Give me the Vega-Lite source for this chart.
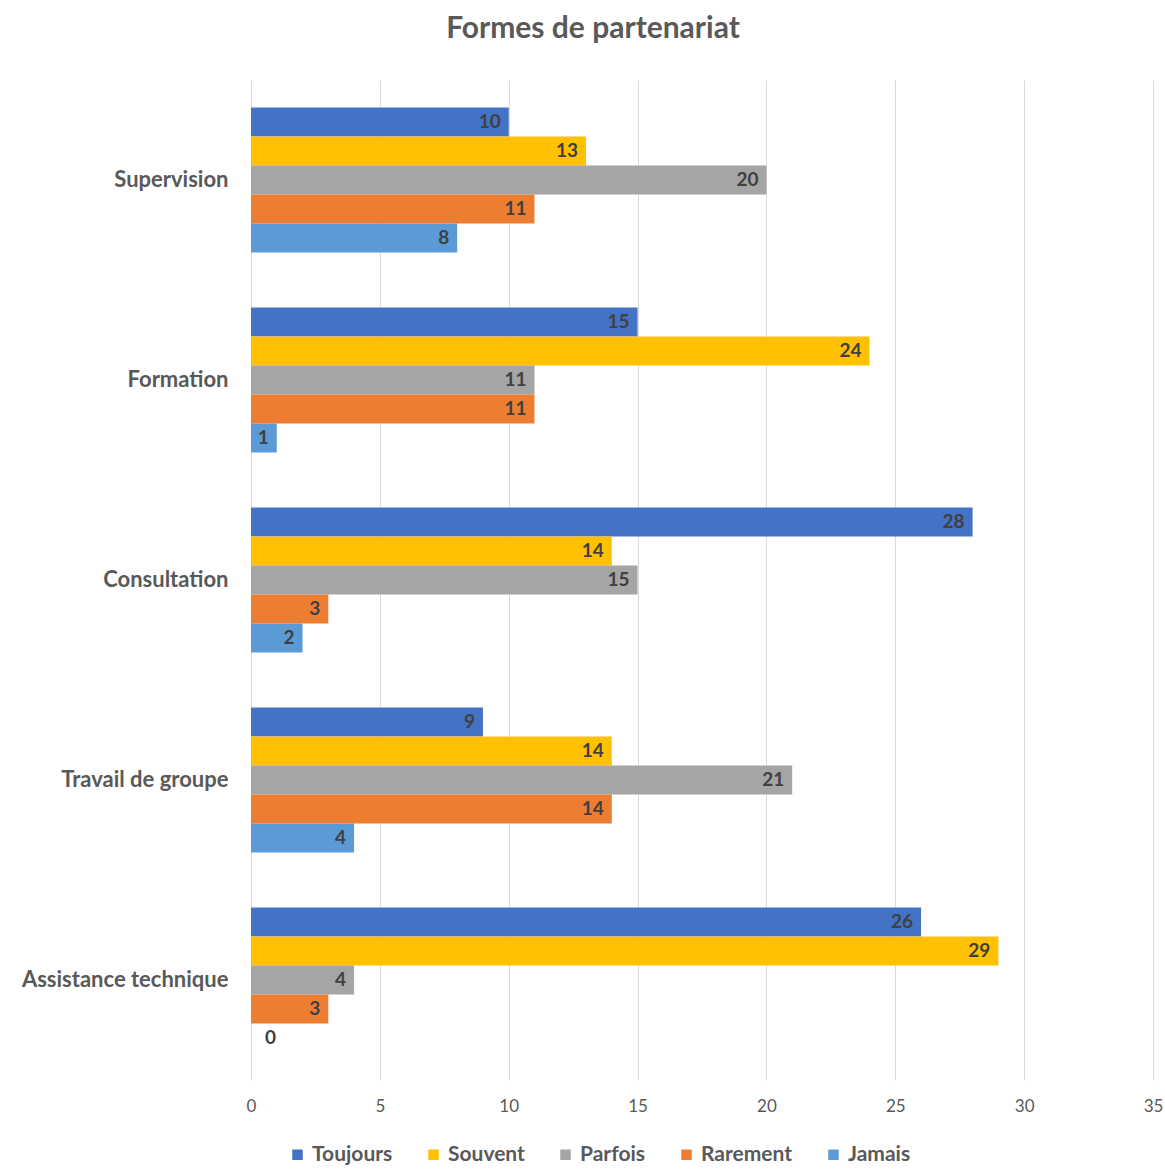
{
  "$schema": "https://vega.github.io/schema/vega-lite/v6.json",
  "autosize": {"type": "none"},
  "padding": {"left": 251, "top": 80, "right": 12, "bottom": 89},
  "width": 902,
  "height": 1000,
  "background": "white",
  "config": {"view": {"stroke": null}},
  "title": {"text": "Formes de partenariat", "anchor": "middle", "dx": -109, "offset": 36, "fontSize": 30, "font": "Lato", "fontWeight": "bold", "color": "#595959"},
  "data": {"values": [
    {"forme": "Supervision", "freq": "Toujours", "n": 10},
    {"forme": "Supervision", "freq": "Souvent", "n": 13},
    {"forme": "Supervision", "freq": "Parfois", "n": 20},
    {"forme": "Supervision", "freq": "Rarement", "n": 11},
    {"forme": "Supervision", "freq": "Jamais", "n": 8},
    {"forme": "Formation", "freq": "Toujours", "n": 15},
    {"forme": "Formation", "freq": "Souvent", "n": 24},
    {"forme": "Formation", "freq": "Parfois", "n": 11},
    {"forme": "Formation", "freq": "Rarement", "n": 11},
    {"forme": "Formation", "freq": "Jamais", "n": 1},
    {"forme": "Consultation", "freq": "Toujours", "n": 28},
    {"forme": "Consultation", "freq": "Souvent", "n": 14},
    {"forme": "Consultation", "freq": "Parfois", "n": 15},
    {"forme": "Consultation", "freq": "Rarement", "n": 3},
    {"forme": "Consultation", "freq": "Jamais", "n": 2},
    {"forme": "Travail de groupe", "freq": "Toujours", "n": 9},
    {"forme": "Travail de groupe", "freq": "Souvent", "n": 14},
    {"forme": "Travail de groupe", "freq": "Parfois", "n": 21},
    {"forme": "Travail de groupe", "freq": "Rarement", "n": 14},
    {"forme": "Travail de groupe", "freq": "Jamais", "n": 4},
    {"forme": "Assistance technique", "freq": "Toujours", "n": 26},
    {"forme": "Assistance technique", "freq": "Souvent", "n": 29},
    {"forme": "Assistance technique", "freq": "Parfois", "n": 4},
    {"forme": "Assistance technique", "freq": "Rarement", "n": 3},
    {"forme": "Assistance technique", "freq": "Jamais", "n": 0}
  ]},
  "encoding": {
    "y": {"field": "forme", "type": "nominal", "sort": ["Supervision", "Formation", "Consultation", "Travail de groupe", "Assistance technique"],
      "scale": {"paddingInner": 0.275, "paddingOuter": 0.1375},
      "axis": {"title": null, "domain": false, "ticks": false, "labelPadding": 23, "labelLimit": 400, "labelFontSize": 22, "labelFont": "Lato", "labelFontWeight": "bold", "labelColor": "#595959", "grid": false}},
    "yOffset": {"field": "freq", "type": "nominal", "sort": ["Toujours", "Souvent", "Parfois", "Rarement", "Jamais"], "scale": {"paddingInner": 0, "paddingOuter": 0}},
    "x": {"field": "n", "type": "quantitative", "scale": {"domain": [0, 35], "nice": false},
      "axis": {"title": null, "values": [0, 5, 10, 15, 20, 25, 30, 35], "domain": false, "ticks": false, "labelFlush": false, "labelPadding": 18, "labelFontSize": 17, "labelFont": "Lato", "labelColor": "#595959", "gridColor": "#d9d9d9", "gridWidth": 1}}
  },
  "layer": [
    {"mark": {"type": "bar"},
     "encoding": {"color": {"field": "freq", "type": "nominal", "sort": ["Toujours", "Souvent", "Parfois", "Rarement", "Jamais"],
       "scale": {"domain": ["Toujours", "Souvent", "Parfois", "Rarement", "Jamais"], "range": ["#4472C4", "#FFC000", "#A5A5A5", "#ED7D31", "#5B9BD5"]},
       "legend": {"title": null, "orient": "none", "direction": "horizontal", "legendX": 36, "legendY": 1064, "symbolType": "square", "symbolSize": 110, "labelFontSize": 21, "labelFont": "Lato", "labelFontWeight": "bold", "labelColor": "#595959", "columnPadding": 30, "labelOffset": 4, "symbolStrokeWidth": 0}}}},
    {"transform": [{"filter": "datum.n > 0"}],
     "mark": {"type": "text", "align": "right", "dx": -8, "fontSize": 19, "font": "Lato", "fontWeight": "bold", "color": "#404040"},
     "encoding": {"text": {"field": "n", "type": "quantitative"}}},
    {"transform": [{"filter": "datum.n == 0"}],
     "mark": {"type": "text", "align": "left", "dx": 14, "fontSize": 19, "font": "Lato", "fontWeight": "bold", "color": "#404040"},
     "encoding": {"text": {"field": "n", "type": "quantitative"}}}
  ]
}
